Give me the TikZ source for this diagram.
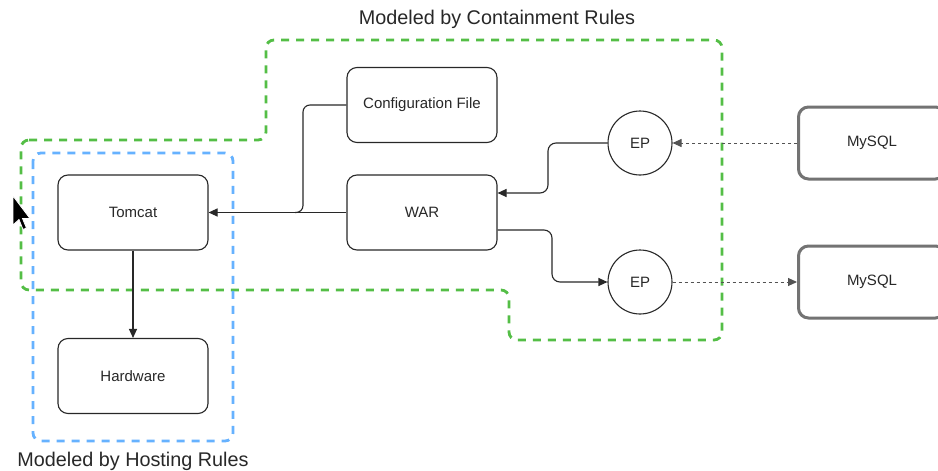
\documentclass[tikz,border=0pt]{standalone}
\usepackage{fontspec}
\setmainfont{Liberation Sans}
\usetikzlibrary{arrows.meta}
\definecolor{grn}{RGB}{84,190,70}
\definecolor{blu}{RGB}{102,178,255}
\definecolor{ink}{RGB}{40,40,40}
\definecolor{dbbox}{RGB}{115,115,115}
\tikzset{
  box/.style={draw=ink, line width=1.1pt, rounded corners=10pt, minimum width=150pt, minimum height=75pt, inner sep=0pt, font=\fontsize{15}{18}\selectfont, text=ink},
  dbbox/.style={draw=dbbox, line width=3pt, rounded corners=10pt, minimum width=147pt, minimum height=72pt, inner sep=0pt, font=\fontsize{15}{18}\selectfont, text=ink},
  epnode/.style={draw=ink, line width=1.1pt, circle, minimum size=64pt, inner sep=0pt, font=\fontsize{15}{18}\selectfont, text=ink},
  conn/.style={draw=ink, line width=1.1pt, -{Triangle[length=9pt,width=8pt]}},
  dotconn/.style={draw=ink!80, line width=1pt, dash pattern=on 3pt off 3pt, -{Triangle[length=9pt,width=8pt]}},
  grouplbl/.style={font=\fontsize{19.8}{23}\selectfont, text=ink},
  greenzone/.style={draw=grn, line width=2.8pt, dash pattern=on 8pt off 7pt, rounded corners=8pt},
  bluezone/.style={draw=blu, line width=2.8pt, dash pattern=on 8pt off 7pt, rounded corners=8pt},
}
\begin{document}
\begin{tikzpicture}[x=1pt,y=-1pt]
\useasboundingbox (0,0) rectangle (938,471);
\fill[white] (0,0) rectangle (938,471);

% zones
\draw[greenzone] (21,140) -- (266,140) -- (266,40) -- (722,40) -- (722,340) -- (509,340) -- (509,290) -- (21,290) -- cycle;
\draw[bluezone] (33,153) rectangle (233,441);

% labels
\node[grouplbl] (lblc) at (497,19) {Modeled by Containment Rules};
\node[grouplbl] (lblh) at (133,461) {Modeled by Hosting Rules};

% nodes
\node[box, fill=white] (tomcat) at (133,212.5) {Tomcat};
\node[box, fill=white] (hardware) at (133,376) {Hardware};
\node[box, fill=white] (config) at (422,105) {Configuration File};
\node[box, fill=white] (war) at (422,212.5) {WAR};
\node[epnode, fill=white] (ep1) at (640,143) {EP};
\node[epnode, fill=white] (ep2) at (640,282) {EP};
\node[dbbox, fill=white] (my1) at (872,143) {MySQL};
\node[dbbox, fill=white] (my2) at (872,282) {MySQL};

% connectors
\coordinate (cj) at (303,212.5);
\coordinate (a1) at (548,193);
\coordinate (a2) at (552,230);

\draw[conn] (war.west) -- (tomcat.east);
\draw[draw=ink, line width=1.1pt, rounded corners=7pt] (config.west) -| (cj) -- ++(-8,0);
\draw[conn, rounded corners=8pt] (ep1.west) -| (a1) -- (a1 -| war.east);
\draw[conn, rounded corners=8pt] (a2 -| war.east) -- (a2) |- (ep2.west);
\draw[conn] (tomcat.south) -- (hardware.north);
\draw[dotconn] (my1.west) -- (ep1.east);
\draw[dotconn] (ep2.east) -- (my2.west);

% mouse cursor
\fill[black, draw=white, line width=0.8pt] (13,196) -- (13,225) -- (19,219.5) -- (23,229.5) -- (26.5,228) -- (22.5,218.5) -- (30,218.5) -- cycle;
\end{tikzpicture}
\end{document}
